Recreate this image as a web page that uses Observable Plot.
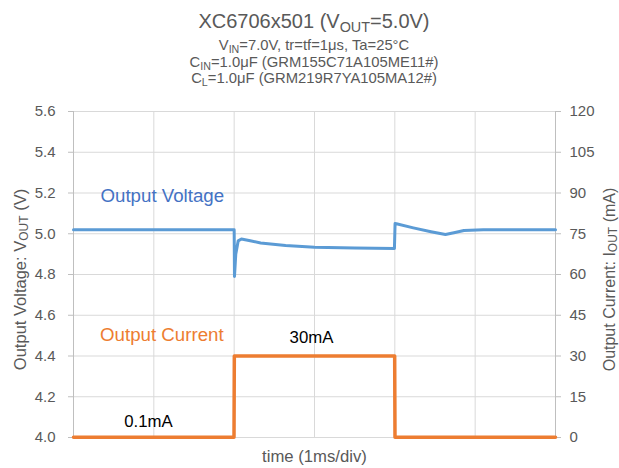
<!DOCTYPE html>
<html>
<head>
<meta charset="utf-8">
<script src="https://cdn.jsdelivr.net/npm/d3@7"></script>
<script src="https://cdn.jsdelivr.net/npm/@observablehq/plot@0.6"></script>
<style>
  body { margin: 0; background: #fff; }
  #head { position: relative; width: 619px; height: 95px; font-family: "Liberation Sans", Arial, sans-serif; color: #595959; overflow: hidden; }
  #head div { position: absolute; left: 9px; width: 610px; text-align: center; white-space: nowrap; }
  #head sub { font-size: 0.72em; vertical-align: -0.28em; line-height: 0; }
  #chart svg { display: block; }
  g[aria-label="y-axis tick"] { stroke: #bfbfbf; }
</style>
</head>
<body>
<div id="head">
  <div style="top:11px;font-size:20px;line-height:20px">XC6706x501 (V<sub>OUT</sub>=5.0V)</div>
  <div style="top:38px;font-size:14.8px;line-height:15px">V<sub>IN</sub>=7.0V, tr=tf=1μs, Ta=25°C</div>
  <div style="top:55px;font-size:14.8px;line-height:15px">C<sub>IN</sub>=1.0μF (GRM155C71A105ME11#)</div>
  <div style="top:71px;font-size:14.8px;line-height:15px">C<sub>L</sub>=1.0μF (GRM219R7YA105MA12#)</div>
</div>
<div id="chart"></div>
<script>
// Output voltage trace (time in ms, volts)
const voltT = [0, 2.0, 2.004, 2.02, 2.05, 2.09, 2.2, 2.33, 2.64, 3.0, 3.5, 3.995, 4.003, 4.02, 4.23, 4.45, 4.63, 4.75, 4.86, 5.1, 6.0];
const voltV = [5.02, 5.02, 4.79, 4.9, 4.965, 4.974, 4.966, 4.955, 4.942, 4.934, 4.93, 4.928, 5.05, 5.049, 5.029, 5.01, 4.996, 5.006, 5.016, 5.02, 5.02];
// Output current trace (time in ms, mA)
const currT = [0, 1.998, 2.002, 3.998, 4.002, 6.0];
const currI = [0.1, 0.1, 30, 30, 0.1, 0.1];
// Axis ticks
const ticksV = [4.0, 4.2, 4.4, 4.6, 4.8, 5.0, 5.2, 5.4, 5.6];
const ticksI = [0, 15, 30, 45, 60, 75, 90, 105, 120];
const gridT = [1, 2, 3, 4, 5];
// Annotations
const seriesLabels = [
  {text: "Output Voltage", t: 0.336, v: 5.185, color: "#4472C4"},
  {text: "Output Current", t: 0.33, v: 4.503, color: "#ED7D31"}
];
const valueLabels = [
  {text: "30mA", t: 2.963, v: 4.491},
  {text: "0.1mA", t: 0.934, v: 4.08}
];

const vMin = 4.0, vMax = 5.6, iMax = 120;
const iToV = i => vMin + i * (vMax - vMin) / iMax;
const vToI = v => Math.round((v - vMin) * iMax / (vMax - vMin));

const volt = voltT.map((t, k) => ({t, v: voltV[k]}));
const curr = currT.map((t, k) => ({t, v: iToV(currI[k])}));

const chart = Plot.plot({
  width: 619,
  height: 373,
  marginTop: 16,
  marginBottom: 31,
  marginLeft: 73,
  marginRight: 64,
  style: {fontFamily: "'Liberation Sans', Arial, sans-serif", fontSize: "15px", color: "#595959", background: "#fff"},
  x: {domain: [0, 6], axis: null},
  y: {domain: [vMin, vMax], axis: null},
  marks: [
    Plot.gridY(ticksV, {stroke: "#d9d9d9", strokeOpacity: 1}),
    Plot.gridX(gridT, {stroke: "#d9d9d9", strokeOpacity: 1}),
    Plot.ruleX([0, 6], {stroke: "#bfbfbf"}),
    Plot.axisY(ticksV, {anchor: "left", tickSize: 5, tickPadding: 13, tickFormat: d => d.toFixed(1), fontSize: 15, label: null}),
    Plot.axisY(ticksI.map(iToV), {anchor: "right", tickSize: 5, tickPadding: 9, tickFormat: d => String(vToI(d)), fontSize: 15, label: null}),
    Plot.line(curr, {x: "t", y: "v", stroke: "#ED7D31", strokeWidth: 3.5}),
    Plot.line(volt, {x: "t", y: "v", stroke: "#5B9BD5", strokeWidth: 3}),
    Plot.text(seriesLabels, {x: "t", y: "v", text: "text", fill: "color", textAnchor: "start", fontSize: 18.7}),
    Plot.text(valueLabels, {x: "t", y: "v", text: "text", fill: "#000", fontSize: 16.8}),
    Plot.text(["time (1ms/div)"], {frameAnchor: "bottom", dy: 24, text: d => d, fontSize: 16.7, fill: "#595959"}),
    Plot.text(["Output Voltage: VOUT (V)"], {frameAnchor: "left", textAnchor: "middle", dx: -53, dy: 5, rotate: -90, text: d => d, fontSize: 16.5, fill: "#595959", className: "ylab"}),
    Plot.text(["Output Current: IOUT (mA)"], {frameAnchor: "right", textAnchor: "middle", dx: 54, dy: 5, rotate: -90, text: d => d, fontSize: 16, fill: "#595959", className: "ylab"})
  ]
});
document.getElementById("chart").appendChild(chart);

// Subscripts inside the rotated axis titles
chart.querySelectorAll(".ylab text").forEach(el => {
  const s = el.textContent;
  const m = s.match(/^(.*?)(V|I)OUT(.*)$/);
  if (!m) return;
  el.textContent = "";
  const ns = "http://www.w3.org/2000/svg";
  const a = document.createElementNS(ns, "tspan"); a.textContent = m[1] + m[2];
  const b = document.createElementNS(ns, "tspan"); b.textContent = "OUT"; b.setAttribute("font-size", "12"); b.setAttribute("dy", "2.5");
  const c = document.createElementNS(ns, "tspan"); c.textContent = m[3]; c.setAttribute("dy", "-2.5");
  el.append(a, b, c);
});
</script>
</body>
</html>
